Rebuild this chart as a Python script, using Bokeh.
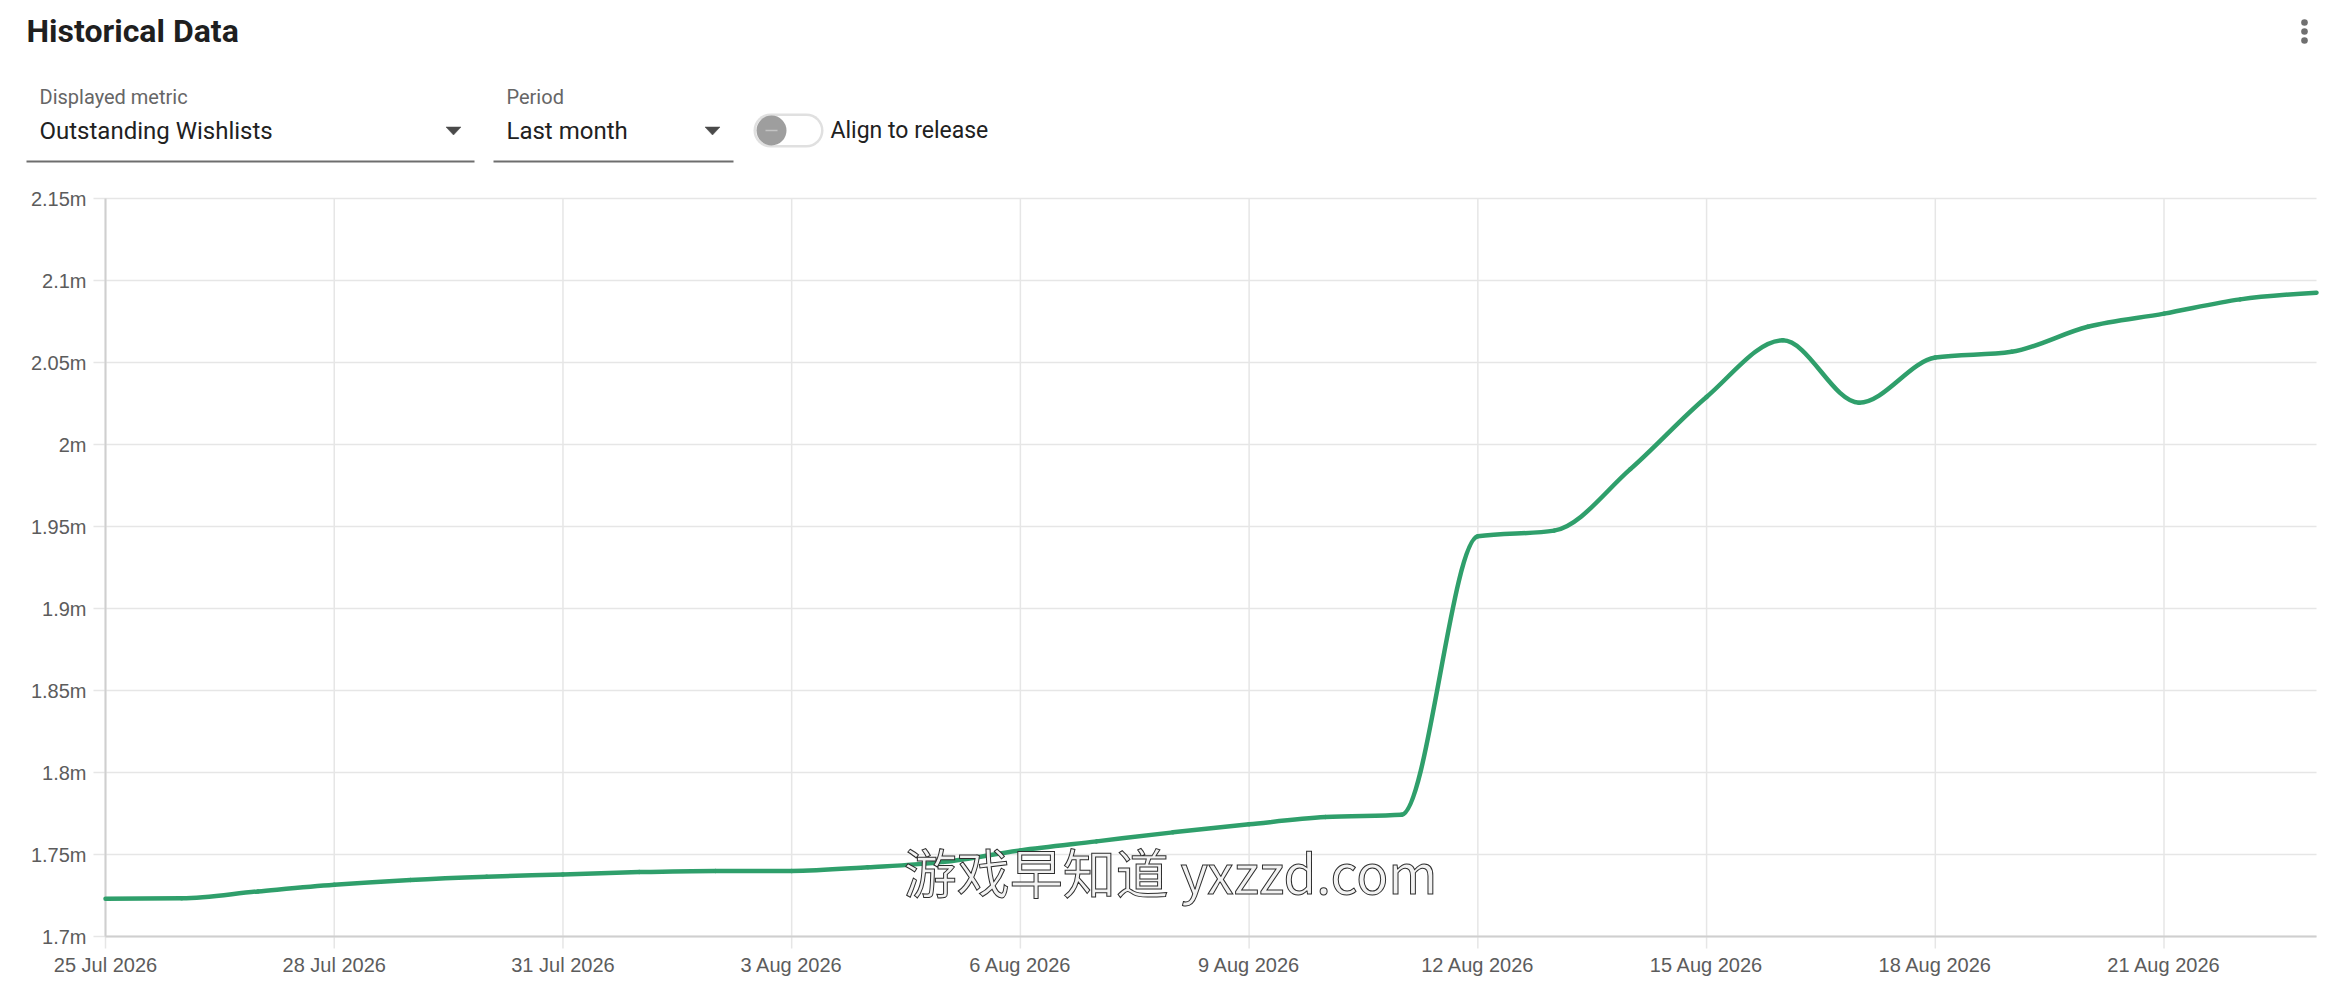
import numpy as np
from bokeh.plotting import figure
from bokeh.models import Range1d, Label
from bokeh.core.properties import value
from bokeh.embed import file_html
from bokeh.resources import INLINE

# ---------------- data ----------------
dates = ["25 Jul 2026", "26 Jul 2026", "27 Jul 2026", "28 Jul 2026", "29 Jul 2026",
         "30 Jul 2026", "31 Jul 2026", "1 Aug 2026", "2 Aug 2026", "3 Aug 2026",
         "4 Aug 2026", "5 Aug 2026", "6 Aug 2026", "7 Aug 2026", "8 Aug 2026",
         "9 Aug 2026", "10 Aug 2026", "11 Aug 2026", "12 Aug 2026", "13 Aug 2026",
         "14 Aug 2026", "15 Aug 2026", "16 Aug 2026", "17 Aug 2026", "18 Aug 2026",
         "19 Aug 2026", "20 Aug 2026", "21 Aug 2026", "22 Aug 2026", "23 Aug 2026"]
wishlists = [1723000, 1723300, 1727500, 1731500, 1734500,
             1736500, 1737800, 1739300, 1740000, 1740000,
             1742200, 1745500, 1752500, 1758000, 1763500,
             1768400, 1772800, 1774200, 1944000, 1947500,
             1985000, 2029000, 2063500, 2025500, 2053000,
             2056500, 2071800, 2079800, 2088500, 2092600]
x_tick_index = [0, 3, 6, 9, 12, 15, 18, 21, 24, 27]
x_tick_labels = [dates[i] for i in x_tick_index]
y_ticks = [1700000, 1750000, 1800000, 1850000, 1900000, 1950000, 2000000, 2050000, 2100000, 2150000]
y_tick_labels = ["1.7m", "1.75m", "1.8m", "1.85m", "1.9m", "1.95m", "2m", "2.05m", "2.1m", "2.15m"]

title_text = "Historical Data"
metric_label, metric_value = "Displayed metric", "Outstanding Wishlists"
period_label, period_value = "Period", "Last month"
toggle_text = "Align to release"
watermark = "游戏早知道 yxzzd.com"

# ---------------- geometry (canvas pixels) ----------------
W, H = 2322, 988
F_LEFT, F_RIGHT, F_TOP, F_BOTTOM = 105, 2316, 198, 936   # plotting area of the chart
X0, X1 = 0, len(dates) - 1
Y0, Y1 = y_ticks[0], y_ticks[-1]
PX_PER_X = (F_RIGHT - F_LEFT) / (X1 - X0)
VAL_PER_PX = (Y1 - Y0) / (F_BOTTOM - F_TOP)


def dx(px):
    """canvas x pixel -> data x (decorations only)"""
    return X0 + (px - F_LEFT) / PX_PER_X


def dy(py):
    """canvas y pixel -> data y (decorations only)"""
    return Y0 + (F_BOTTOM - py) * VAL_PER_PX


p = figure(width=W, height=H,
           x_range=Range1d(dx(0), dx(W)), y_range=Range1d(dy(H), dy(0)),
           x_axis_type=None, y_axis_type=None,
           output_backend="svg", toolbar_location=None,
           min_border=0, min_border_left=0, min_border_right=0,
           min_border_top=0, min_border_bottom=0)
p.outline_line_color = None
p.background_fill_color = "white"
p.border_fill_color = "white"

GRID = "#e6e6e6"
TICK_PX = 12
AX_FONT = value("Liberation Sans")

# grid lines (extending outward as tick marks)
p.segment(x0=x_tick_index, y0=[Y0 - TICK_PX * VAL_PER_PX] * len(x_tick_index),
          x1=x_tick_index, y1=[Y1] * len(x_tick_index), line_color=GRID, line_width=1.5)
p.segment(x0=[X0 - TICK_PX / PX_PER_X] * len(y_ticks), y0=y_ticks,
          x1=[X1] * len(y_ticks), y1=y_ticks, line_color=GRID, line_width=1.5)
# axis lines
p.segment(x0=[X0, X0], y0=[Y0, Y0], x1=[X0, X1], y1=[Y1, Y0], line_color="#cfcfcf", line_width=2)

# tick labels
p.text(x=[X0] * len(y_ticks), y=y_ticks, text=y_tick_labels, x_offset=-(TICK_PX + 7),
       text_align="right", text_baseline="middle", text_font=AX_FONT,
       text_font_size=value("20px"), text_color="#5c5c5c")
p.text(x=x_tick_index, y=[Y0] * len(x_tick_index), text=x_tick_labels, y_offset=TICK_PX + 5,
       text_align="center", text_baseline="top", text_font=AX_FONT,
       text_font_size=value("20px"), text_color="#5c5c5c")


# monotone-x cubic curve (same scheme as d3.curveMonotoneX)
def monotone_tangents(x, y):
    n = len(x)
    t = np.zeros(n)
    for i in range(1, n - 1):
        h0 = x[i] - x[i - 1]
        h1 = x[i + 1] - x[i]
        s0 = (y[i] - y[i - 1]) / h0
        s1 = (y[i + 1] - y[i]) / h1
        pp = (s0 * h1 + s1 * h0) / (h0 + h1)
        t[i] = (np.sign(s0) + np.sign(s1)) * min(abs(s0), abs(s1), 0.5 * abs(pp))
    t[0] = (3 * (y[1] - y[0]) / (x[1] - x[0]) - t[1]) / 2
    t[-1] = (3 * (y[-1] - y[-2]) / (x[-1] - x[-2]) - t[-2]) / 2
    return t


xs = np.arange(len(dates), dtype=float)
ys = np.array(wishlists, dtype=float)
tan = monotone_tangents(xs, ys)
seg = (xs[1:] - xs[:-1]) / 3.0
p.bezier(x0=xs[:-1], y0=ys[:-1], x1=xs[1:], y1=ys[1:],
         cx0=xs[:-1] + seg, cy0=ys[:-1] + seg * tan[:-1],
         cx1=xs[1:] - seg, cy1=ys[1:] - seg * tan[1:],
         line_color="#2f9f6b", line_width=4.5, line_cap="round")

# watermark overlay
p.add_layout(Label(x=dx(1170), y=dy(870), text=watermark, text_font="Noto Sans CJK SC",
                   text_font_size="53px", text_color="#f2f2f2", text_outline_color="#2e2e2e",
                   text_align="center", text_baseline="middle"))

# ---------------- header ----------------
p.add_layout(Label(x=dx(26), y=dy(30), text=title_text, text_font="Roboto",
                   text_font_size="32px", text_font_style="bold", text_color="#1f1f1f",
                   text_baseline="alphabetic"))

for (lx, lab, val) in [(39, metric_label, metric_value), (506, period_label, period_value)]:
    p.add_layout(Label(x=dx(lx), y=dy(96), text=lab, text_font="Roboto",
                       text_font_size="20px", text_color="#666666", text_baseline="middle"))
    p.add_layout(Label(x=dx(lx), y=dy(130), text=val, text_font="Roboto",
                       text_font_size="24px", text_color="#212121", text_baseline="middle"))

# underlines
for (l, r) in [(26, 474), (493, 733)]:
    p.line([dx(l), dx(r)], [dy(161), dy(161)], line_color="#6e6e6e", line_width=1.8)

# dropdown arrows
for cx in (453, 712):
    p.patch([dx(cx - 7.5), dx(cx + 7.5), dx(cx)], [dy(126.5), dy(126.5), dy(134.5)],
            fill_color="#4a4a4a", line_color="#4a4a4a", line_width=0.5)

# toggle switch
p.line([dx(770), dx(806)], [dy(130), dy(130)], line_color="#e0e0e0", line_width=34, line_cap="round")
p.line([dx(770), dx(806)], [dy(130), dy(130)], line_color="#ffffff", line_width=29, line_cap="round")
p.scatter([dx(771)], [dy(130)], size=30, fill_color="#9e9e9e", line_color=None)
p.line([dx(765), dx(777)], [dy(130), dy(130)], line_color="#c4c4c4", line_width=1.5)
p.add_layout(Label(x=dx(830), y=dy(130), text=toggle_text, text_font="Roboto",
                   text_font_size="23px", text_color="#212121", text_baseline="middle"))

# three-dot menu
p.scatter([dx(2304)] * 3, [dy(22), dy(31), dy(40)], size=6.6, fill_color="#6f6f6f", line_color=None)

open("out.html", "w").write(file_html(p, INLINE))
